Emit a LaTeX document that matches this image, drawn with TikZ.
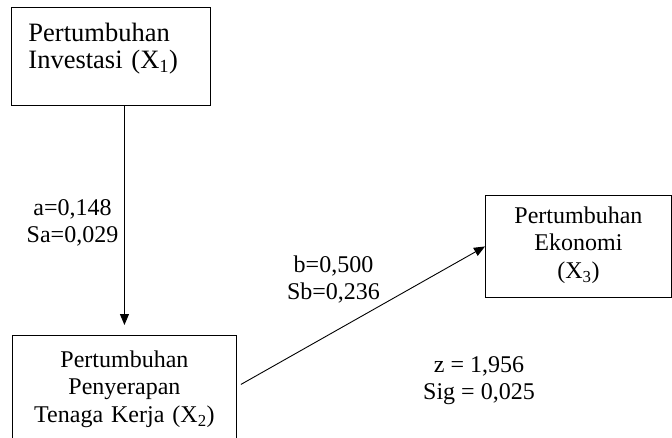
\documentclass[tikz,border=0pt]{standalone}
\usepackage{fontspec}
\setmainfont{Liberation Serif}
\usetikzlibrary{arrows.meta}
\usetikzlibrary{calc}

\begin{document}
\begin{tikzpicture}[x=1pt,y=1pt,line width=0.9pt,
    box/.style={draw=black, rectangle, inner ysep=0pt, font=\fontsize{24}{27.5}\selectfont},
    coef/.style={align=center, inner sep=0pt, anchor=base, font=\fontsize{24}{27}\selectfont},
    >={Triangle[length=11pt,width=9pt]}]
\useasboundingbox (0,0) rectangle (672,437);

    % Variables:
    % Boxes are plain rectangles, text sits on fixed height/depth so it keeps its place
    \node [box, anchor=north west, inner xsep=17pt, text width=165pt, align=left,
           text height=34pt, text depth=64pt, font=\fontsize{26.5}{27}\selectfont]
           (x1) at (11,430) {Pertumbuhan\\Investasi (X\textsubscript{1})};
    \node [box, anchor=north west, inner xsep=0pt, text width=224pt, align=center,
           text height=32pt, text depth=74pt]
           (x2) at (12,102) {Pertumbuhan\\Penyerapan\\Tenaga Kerja (X\textsubscript{2})};
    \node [box, anchor=north west, inner xsep=0pt, text width=186pt, align=center,
           text height=28pt, text depth=74pt]
           (x3) at (485,242) {Pertumbuhan\\Ekonomi\\(X\textsubscript{3})};

    % Paths:
    \draw [->] (x1.south -| x2.north) -- ([yshift=10pt]x2.north);
    \draw [->] ([shift={(4pt,4pt)}]x2.east) -- (x3.west);

    % Coefficients (base is the last line here):
    \node [coef] (ca) at (72.5,194) {a=0,148\\Sa=0,029};
    \node [coef] (cb) at (333.5,138) {b=0,500\\Sb=0,236};
    \node [coef] (cz) at (479,38) {z = 1,956\\Sig = 0,025};
\end{tikzpicture}
\end{document}
